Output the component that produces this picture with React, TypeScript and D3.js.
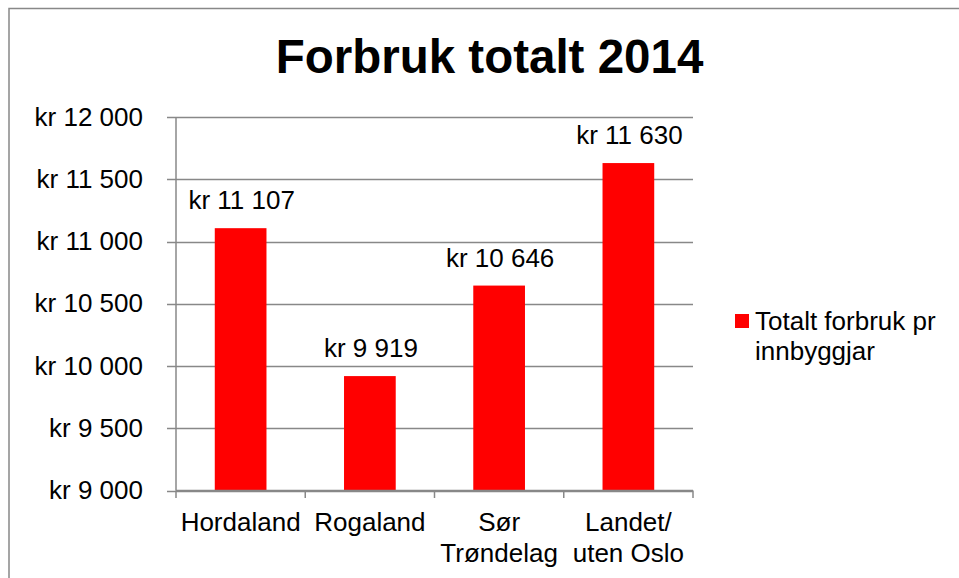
import React from "react";
import * as d3 from "d3";

const categories: string[][] = [["Hordaland"], ["Rogaland"], ["Sør", "Trøndelag"], ["Landet/", "uten Oslo"]];
const categoryKeys = ["Hordaland", "Rogaland", "Sør Trøndelag", "Landet/ uten Oslo"];
const values = [11107, 9919, 10646, 11630];
const valueLabels = ["kr 11 107", "kr 9 919", "kr 10 646", "kr 11 630"];
const yTicks = [9000, 9500, 10000, 10500, 11000, 11500, 12000];
const yTickLabels = ["kr 9 000", "kr 9 500", "kr 10 000", "kr 10 500", "kr 11 000", "kr 11 500", "kr 12 000"];
const title = "Forbruk totalt 2014";
const legendLines = ["Totalt forbruk pr", "innbyggjar"];

const W = 959;
const H = 578;
const FONT = "'Liberation Sans', Arial, sans-serif";
const GRID = "#888888";
const FS = 26;

export default function App() {
  const x = d3.scaleBand<string>().domain(categoryKeys).range([176, 693]).paddingInner(0.6).paddingOuter(0.3);
  const y = d3.scaleLinear().domain([9000, 12000]).range([490.5, 117]);
  const step = x.step();
  const boundaries = d3.range(categoryKeys.length + 1).map((i) => 176 + i * step);

  return (
    <div style={{ position: "absolute", left: 0, top: 0 }}>
      <svg width={W} height={H} style={{ display: "block", background: "#fff" }}>
        <rect x={9} y={8.5} width={W + 20} height={H + 20} fill="#fff" stroke={GRID} strokeWidth={1.5} />
        <text x={489.5} y={73} textAnchor="middle" fontFamily={FONT} fontWeight="bold" fontSize={47.5} fill="#000">
          {title}
        </text>
        {yTicks.map((t, i) => (
          <g key={t}>
            <line x1={167} x2={693} y1={Math.round(y(t)) + 0.5} y2={Math.round(y(t)) + 0.5} stroke={GRID} strokeWidth={1.5} />
            <text x={143} y={y(t) + 8.5} textAnchor="end" fontFamily={FONT} fontSize={FS} fill="#000">
              {yTickLabels[i]}
            </text>
          </g>
        ))}
        <line x1={176} x2={176} y1={117} y2={490.5} stroke={GRID} strokeWidth={1.5} />
        {boundaries.map((b, i) => (
          <line key={i} x1={b} x2={b} y1={490.5} y2={498} stroke={GRID} strokeWidth={1.5} />
        ))}
        {categoryKeys.map((c, i) => (
          <g key={c}>
            <rect x={x(c)} y={y(values[i])} width={x.bandwidth()} height={y(9000) - y(values[i])} fill="#FF0000" />
            <text x={(x(c) as number) + x.bandwidth() / 2 + 1} y={y(values[i]) - 19} textAnchor="middle" fontFamily={FONT} fontSize={FS} fill="#000">
              {valueLabels[i]}
            </text>
            {categories[i].map((line, j) => (
              <text key={j} x={(x(c) as number) + x.bandwidth() / 2} y={530.5 + j * 31} textAnchor="middle" fontFamily={FONT} fontSize={FS} fill="#000">
                {line}
              </text>
            ))}
          </g>
        ))}
        <line x1={176} x2={693} y1={490.5} y2={490.5} stroke={GRID} strokeWidth={1.5} />
        <rect x={735} y={314} width={14} height={14} fill="#FF0000" />
        {legendLines.map((l, i) => (
          <text key={i} x={755} y={329.5 + i * 30} fontFamily={FONT} fontSize={FS} fill="#000">
            {l}
          </text>
        ))}
      </svg>
    </div>
  );
}
